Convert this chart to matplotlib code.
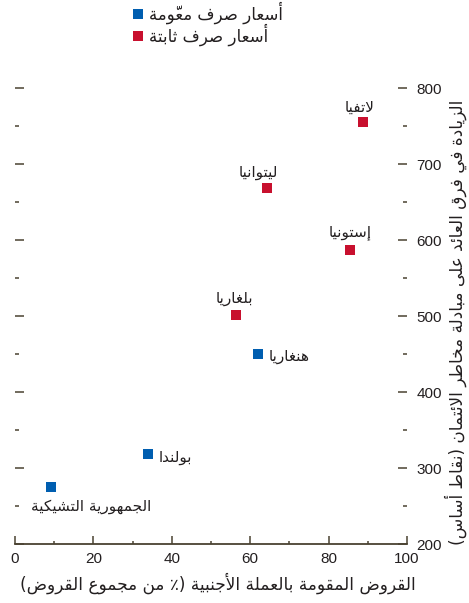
import matplotlib
matplotlib.use("Agg")
import matplotlib.pyplot as plt
from matplotlib.lines import Line2D
from matplotlib.ticker import MultipleLocator
from matplotlib.font_manager import FontProperties

# ---- data -------------------------------------------------------------
countries = ["الجمهورية التشيكية", "بولندا", "هنغاريا", "بلغاريا",
             "إستونيا", "ليتوانيا", "لاتفيا"]
foreign_share = [9.2, 34.0, 62.1, 56.5, 85.4, 64.2, 88.7]        # % of loans
spread_increase = [275, 318, 450, 501, 587, 668, 755]            # basis points
regime = ["float", "float", "float", "fixed", "fixed", "fixed", "fixed"]

regime_labels = {"float": "أسعار صرف معوَّمة", "fixed": "أسعار صرف ثابتة"}
x_label = "القروض المقومة بالعملة الأجنبية (٪ من مجموع القروض)"
y_label = "الزيادة في فرق العائد على مبادلة مخاطر الائتمان (نقاط أساس)"
x_ticks = [0, 20, 40, 60, 80, 100]
y_ticks = [200, 300, 400, 500, 600, 700, 800]

# ---- minimal Arabic shaping (presentation forms + right-to-left order) --
_letters = "ءآأؤإئابةتثجحخدذرزسشصضطظعغفقكلمنهوىي"
_counts = [1, 2, 2, 2, 2, 4, 2, 4, 2, 4, 4, 4, 4, 4, 2, 2, 2, 2,
           4, 4, 4, 4, 4, 4, 4, 4, 4, 4, 4, 4, 4, 4, 4, 2, 2, 4]
FORMS = {}
_code = 0xFE80
for _ch, _n in zip(_letters, _counts):
    FORMS[_ch] = [chr(_code + k) for k in range(_n)]
    _code += _n
LAM_ALEF = {"آ": 0xFEF5, "أ": 0xFEF7, "إ": 0xFEF9, "ا": 0xFEFB}
MIRROR = {"(": ")", ")": "("}
DROP_MARKS = {"\u064E"}


def shape(text):
    units = []
    i = 0
    while i < len(text):
        ch = text[i]
        if "\u064B" <= ch <= "\u0652" and units:
            if ch not in DROP_MARKS:
                units[-1][1] += ch
            i += 1
            continue
        if ch == "ل" and i + 1 < len(text) and text[i + 1] in LAM_ALEF:
            c = LAM_ALEF[text[i + 1]]
            units.append([ch + text[i + 1], "", [chr(c), chr(c + 1)]])
            i += 2
            continue
        units.append([ch, "", FORMS.get(ch)])
        i += 1
    out = []
    for k, (base, marks, forms) in enumerate(units):
        if forms is None:
            glyph = MIRROR.get(base, base)
        else:
            prev = units[k - 1][2] if k > 0 else None
            nxt = units[k + 1][2] if k + 1 < len(units) else None
            jp = prev is not None and len(prev) == 4 and len(forms) >= 2
            jn = len(forms) == 4 and nxt is not None and len(nxt) >= 2
            idx = 3 if (jp and jn) else 1 if jp else 2 if jn else 0
            glyph = forms[idx]
        out.append(glyph + marks)
    return "".join(reversed(out))


# ---- style ------------------------------------------------------------
plt.rcParams["font.family"] = ["Liberation Sans", "DejaVu Sans"]
TEXT = "#231f20"
AXIS = "#4a4232"
COLORS = {"float": "#005eb0", "fixed": "#c8102e"}
AR_LABEL = FontProperties(family="DejaVu Sans", size=11)
AR_LEGEND = FontProperties(family="DejaVu Sans", size=12)
AR_X = FontProperties(family="DejaVu Sans", size=12.2)
AR_Y = FontProperties(family="DejaVu Sans", size=12.2)

fig = plt.figure(figsize=(4.69, 6.03), dpi=100)
ax = fig.add_axes([15 / 469, 59 / 603, 392 / 469, 456 / 603])

for key in ["float", "fixed"]:
    xs = [x for x, r in zip(foreign_share, regime) if r == key]
    ys = [y for y, r in zip(spread_increase, regime) if r == key]
    ax.scatter(xs, ys, marker="s", s=52, color=COLORS[key], linewidths=0,
               zorder=3)

# country labels, offsets in pixels from each marker
label_offsets = {
    "لاتفيا": (-3, 15, "center"),
    "ليتوانيا": (-8, 16, "center"),
    "إستونيا": (0, 17, "center"),
    "بلغاريا": (-2, 17, "center"),
    "هنغاريا": (10, -2, "left"),
    "بولندا": (10, -3, "left"),
    "الجمهورية التشيكية": (40, -20, "center"),
}
for name, x, y in zip(countries, foreign_share, spread_increase):
    dx, dy, ha = label_offsets[name]
    ax.annotate(shape(name), (x, y), xytext=(dx, dy),
                textcoords="offset pixels", ha=ha, va="center",
                fontproperties=AR_LABEL, color=TEXT)

ax.set_xlim(0, 100)
ax.set_ylim(200, 800)
ax.set_xticks(x_ticks)
ax.xaxis.set_minor_locator(MultipleLocator(10))
ax.set_yticks(y_ticks)
ax.yaxis.set_minor_locator(MultipleLocator(50))

for s in ["top", "left", "right"]:
    ax.spines[s].set_visible(False)
ax.spines["bottom"].set_color(AXIS)
ax.spines["bottom"].set_linewidth(1.3)

ax.tick_params(axis="x", which="major", direction="in", length=5.5,
               width=1.1, color=AXIS, labelsize=11, labelcolor=TEXT, pad=6)
ax.tick_params(axis="x", which="minor", direction="in", length=2.5,
               width=1.1, color=AXIS)
ax.tick_params(axis="y", which="major", direction="in", length=6.5,
               width=1.1, color=AXIS, left=True, right=True,
               labelleft=False, labelright=True, labelsize=11,
               labelcolor=TEXT, pad=7)
ax.tick_params(axis="y", which="minor", direction="in", length=3.2,
               width=1.1, color=AXIS, left=True, right=True)

ax.set_xlabel(shape(x_label), fontproperties=AR_X, color=TEXT)
ax.xaxis.set_label_coords((218 - 15) / 392, (544 - 583) / 456)
ax.xaxis.label.set_va("center")

fig.text(456 / 469, 1 - 322 / 603, shape(y_label), rotation=90,
         ha="center", va="center", fontproperties=AR_Y, color=TEXT)

handles = [Line2D([], [], marker="s", linestyle="none", markersize=7.2,
                  markerfacecolor=COLORS[k], markeredgewidth=0)
           for k in ["float", "fixed"]]
fig.legend(handles, [shape(regime_labels[k]) for k in ["float", "fixed"]],
           loc="upper left", bbox_to_anchor=(132 / 469, 1 - 2 / 603),
           frameon=False, prop=AR_LEGEND, handlelength=0.7,
           handletextpad=0.3, labelspacing=-0.05, borderpad=0,
           borderaxespad=0, labelcolor=TEXT)

fig.savefig("out.png", dpi=100)
